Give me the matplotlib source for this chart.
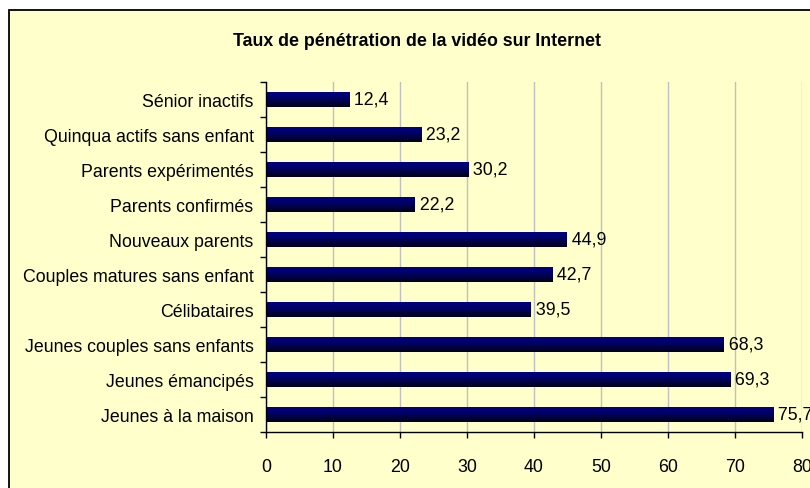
import numpy as np
import matplotlib
matplotlib.use("Agg")
import matplotlib.pyplot as plt
from matplotlib.patches import Rectangle
from matplotlib import font_manager as fm
from matplotlib.colors import LinearSegmentedColormap

categories = [
    "Jeunes à la maison",
    "Jeunes émancipés",
    "Jeunes couples sans enfants",
    "Célibataires",
    "Couples matures sans enfant",
    "Nouveaux parents",
    "Parents confirmés",
    "Parents expérimentés",
    "Quinqua actifs sans enfant",
    "Sénior inactifs",
]
values = [75.7, 69.3, 68.3, 39.5, 42.7, 44.9, 22.2, 30.2, 23.2, 12.4]
x_ticks = [0, 10, 20, 30, 40, 50, 60, 70, 80]
title = "Taux de pénétration de la vidéo sur Internet"

names = {f.name for f in fm.fontManager.ttflist}
if "Liberation Sans Narrow" in names:
    NARROW = ["Liberation Sans Narrow", "DejaVu Sans"]
    LSIZE = 15
else:
    NARROW = ["Liberation Sans", "DejaVu Sans"]
    LSIZE = 12.8
BOLD = ["Liberation Sans", "DejaVu Sans"]

W, H = 810, 489
fig = plt.figure(figsize=(W / 100, H / 100), dpi=100, facecolor="white")

# chart area background and border
fig.patches.append(Rectangle((9 / W, -0.1), 1.2, 1 - 11 / H + 0.1,
                             transform=fig.transFigure, facecolor="#FFFFCC",
                             edgecolor="#000000", linewidth=1.3, zorder=-5))

ax = fig.add_axes([266 / W, 1 - 433 / H, (802 - 266) / W, (433 - 83) / H])
ax.set_facecolor("none")
ax.set_zorder(2)

y = np.arange(len(categories))
bars = ax.barh(y, values, height=0.43, color="#000070", edgecolor="none", zorder=3)

cmap = LinearSegmentedColormap.from_list("g", ["#00008C", "#000060", "#000018"])
grad = np.linspace(0, 1, 64).reshape(-1, 1)
for b in bars:
    x0, y0 = b.get_x(), b.get_y()
    w, h = b.get_width(), b.get_height()
    im = ax.imshow(grad, cmap=cmap, aspect="auto", extent=(x0, x0 + w, y0, y0 + h),
                   origin="upper", zorder=4, interpolation="bilinear")
    im.set_clip_path(b)

for yi, v in zip(y, values):
    ax.text(v, yi, " " + f"{v:.1f}".replace(".", ","), va="center", ha="left",
            fontsize=LSIZE, family=NARROW, color="black", zorder=5)

ax.set_xlim(0, 80)
ax.set_ylim(-0.5, len(categories) - 0.5)
ax.set_xticks(x_ticks)
ax.set_xticklabels([str(t) for t in x_ticks], family=NARROW, fontsize=LSIZE)
ax.set_yticks(y)
ax.set_yticklabels(categories, family=NARROW, fontsize=LSIZE)
ax.set_yticks(np.arange(-0.5, len(categories), 1), minor=True)
ax.tick_params(axis="y", which="major", length=0, pad=9)
ax.tick_params(axis="y", which="minor", length=4, width=1, direction="out", color="black")
ax.tick_params(axis="x", which="major", length=4, width=1, direction="out", pad=15)

ax.grid(axis="x", color="#C0C0C0", linewidth=1, zorder=0)
ax.set_axisbelow(True)
for s in ["top", "right"]:
    ax.spines[s].set_visible(False)
for s in ["left", "bottom"]:
    ax.spines[s].set_color("black")
    ax.spines[s].set_linewidth(1)
    ax.spines[s].set_zorder(6)

fig.text(417 / W, 1 - 46 / H, title, ha="center", va="baseline",
         fontsize=12.8, fontweight="bold", family=BOLD, color="black")

fig.savefig("out.png", dpi=100, facecolor=fig.get_facecolor())
